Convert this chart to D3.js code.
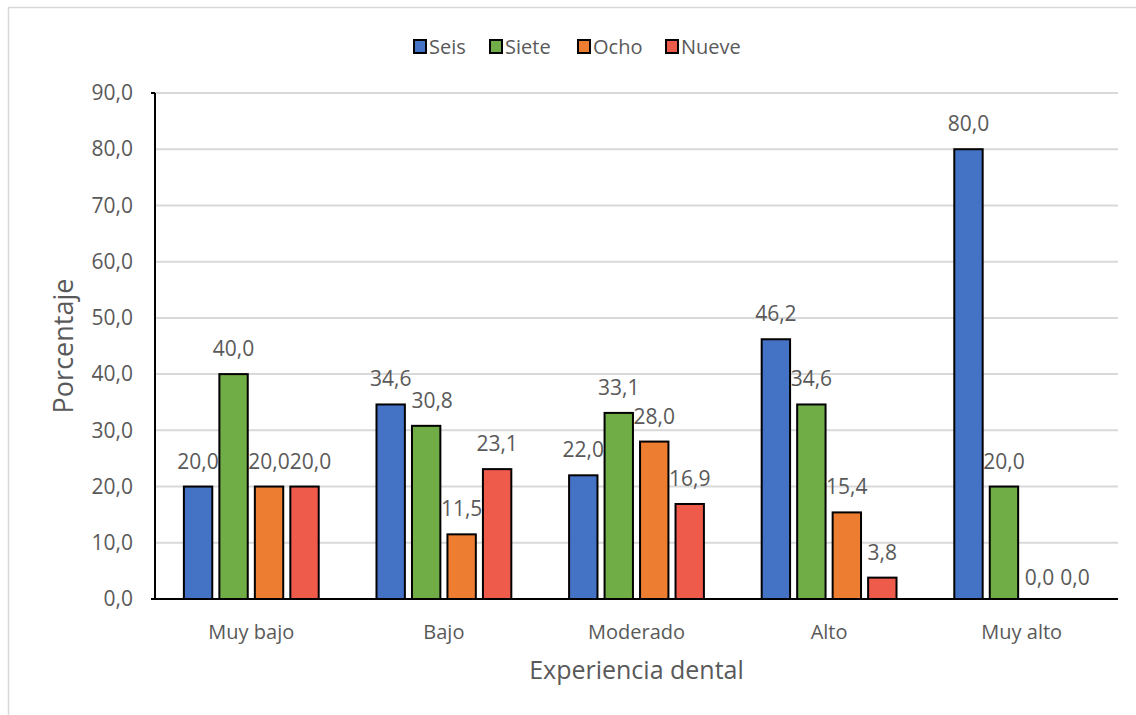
<!DOCTYPE html>
<html>
<head>
<meta charset="utf-8">
<script src="https://cdn.jsdelivr.net/npm/d3@7"></script>
<style>
  body { margin: 0; background: #fff; }
  svg { display: block; font-family: 'Open Sans', sans-serif; }
</style>
</head>
<body>
<svg id="chart" width="1136" height="715"></svg>
<script>
let categories = ['Muy bajo', 'Bajo', 'Moderado', 'Alto', 'Muy alto']
let seriesNames = ['Seis', 'Siete', 'Ocho', 'Nueve']
let seis = [20.0, 34.6, 22.0, 46.2, 80.0]
let siete = [40.0, 30.8, 33.1, 34.6, 20.0]
let ocho = [20.0, 11.5, 28.0, 15.4, 0.0]
let nueve = [20.0, 23.1, 16.9, 3.8, 0.0]
let yTicks = [0, 10, 20, 30, 40, 50, 60, 70, 80, 90]
let colors = ['#4472C4', '#70AD47', '#ED7D31', '#EF5B4B']

let values = [seis, siete, ocho, nueve]
let rows = []
categories.forEach(function (c, i) {
  seriesNames.forEach(function (s, j) {
    rows.push({cat: c, ser: s, val: values[j][i], idx: j})
  })
})

let svg = d3.select('#chart')
let textColor = '#595959'
let fmt = function (v) { return d3.format('.1f')(v).replace('.', ',') }

// chart frame
svg.append('rect')
  .attr('x', 8.5).attr('y', 7.5)
  .attr('width', 1140).attr('height', 720)
  .attr('fill', '#fff')
  .attr('stroke', '#d9d9d9')
  .attr('stroke-width', 1.5)

let plot = {left: 155, right: 1118, top: 93, bottom: 599}

let x = d3.scaleBand()
  .domain(categories)
  .range([plot.left, plot.right])
  .paddingInner(0.3)
  .paddingOuter(0.15)
let xs = d3.scaleBand()
  .domain(seriesNames)
  .range([0, x.bandwidth()])
  .paddingInner(0.2)
let y = d3.scaleLinear()
  .domain([0, 90])
  .range([plot.bottom, plot.top])

// gridlines
svg.append('g')
  .selectAll('line')
  .data(yTicks.filter(function (d) { return d > 0 }))
  .enter().append('line')
  .attr('x1', plot.left).attr('x2', plot.right)
  .attr('y1', function (d) { return y(d) })
  .attr('y2', function (d) { return y(d) })
  .attr('stroke', '#d9d9d9')
  .attr('stroke-width', 2)

// y axis
let yAxis = svg.append('g')
  .attr('transform', 'translate(' + plot.left + ',0)')
  .call(d3.axisLeft(y).tickValues(yTicks).tickFormat(fmt).tickSize(0).tickPadding(22))
yAxis.select('.domain').remove()
yAxis.selectAll('text')
  .attr('fill', textColor)
  .style('font-size', '21px')
  .style('font-family', 'Open Sans, sans-serif')

svg.append('line')
  .attr('x1', plot.left).attr('x2', plot.left)
  .attr('y1', plot.top).attr('y2', plot.bottom + 1)
  .attr('stroke', '#000').attr('stroke-width', 2)
svg.append('line')
  .attr('x1', plot.left - 4).attr('x2', plot.left)
  .attr('y1', plot.top).attr('y2', plot.top)
  .attr('stroke', '#000').attr('stroke-width', 2)

// bars
svg.append('g')
  .selectAll('rect')
  .data(rows)
  .enter().append('rect')
  .attr('x', function (d) { return x(d.cat) + xs(d.ser) })
  .attr('y', function (d) { return y(d.val) })
  .attr('width', xs.bandwidth())
  .attr('height', function (d) { return y(0) - y(d.val) })
  .attr('fill', function (d) { return colors[d.idx] })
  .attr('stroke', '#000')
  .attr('stroke-width', 2)
  .style('display', function (d) { return d.val > 0 ? null : 'none' })

// value labels
let labels = svg.append('g')
  .selectAll('text')
  .data(rows)
  .enter().append('text')
  .text(function (d) { return fmt(d.val) })
  .attr('x', function (d) { return x(d.cat) + xs(d.ser) + xs.bandwidth() / 2 })
  .attr('y', function (d) { return y(d.val) - (d.val > 0 ? 18 : 14) })
  .attr('text-anchor', 'middle')
  .attr('fill', textColor)
  .style('font-size', '21px')

// nudge labels that collide with the previous one in the same group
let nodes = labels.nodes()
for (let i = 1; i < nodes.length; i++) {
  if (rows[i].cat !== rows[i - 1].cat) continue
  let a = nodes[i - 1].getBBox()
  let b = nodes[i].getBBox()
  let overlapX = a.x + a.width - b.x
  let overlapY = Math.min(a.y + a.height, b.y + b.height) - Math.max(a.y, b.y)
  if (overlapX > 0 && overlapY > 0) {
    d3.select(nodes[i]).attr('x', +d3.select(nodes[i]).attr('x') + overlapX)
  }
}

// x axis
svg.append('line')
  .attr('x1', plot.left - 4).attr('x2', plot.right)
  .attr('y1', plot.bottom).attr('y2', plot.bottom)
  .attr('stroke', '#000').attr('stroke-width', 2)

svg.append('g')
  .selectAll('text')
  .data(categories)
  .enter().append('text')
  .text(function (d) { return d })
  .attr('x', function (d) { return x(d) + x.bandwidth() / 2 })
  .attr('y', 639)
  .attr('text-anchor', 'middle')
  .attr('fill', textColor)
  .style('font-size', '20px')

// axis titles
svg.append('text')
  .text('Experiencia dental')
  .attr('x', (plot.left + plot.right) / 2)
  .attr('y', 679)
  .attr('text-anchor', 'middle')
  .attr('fill', textColor)
  .style('font-size', '25px')

svg.append('text')
  .text('Porcentaje')
  .attr('transform', 'translate(73,' + ((plot.top + plot.bottom) / 2) + ') rotate(-90)')
  .attr('text-anchor', 'middle')
  .attr('fill', textColor)
  .style('font-size', '27px')

// legend
let legendX = [414, 490, 578, 666]
let legend = svg.append('g')
  .selectAll('g')
  .data(seriesNames)
  .enter().append('g')
  .attr('transform', function (d, i) { return 'translate(' + legendX[i] + ',40)' })
legend.append('rect')
  .attr('width', 12).attr('height', 13)
  .attr('fill', function (d, i) { return colors[i] })
  .attr('stroke', '#000').attr('stroke-width', 2)
legend.append('text')
  .text(function (d) { return d })
  .attr('x', 15).attr('y', 14)
  .attr('fill', textColor)
  .style('font-size', '20px')
</script>
</body>
</html>
